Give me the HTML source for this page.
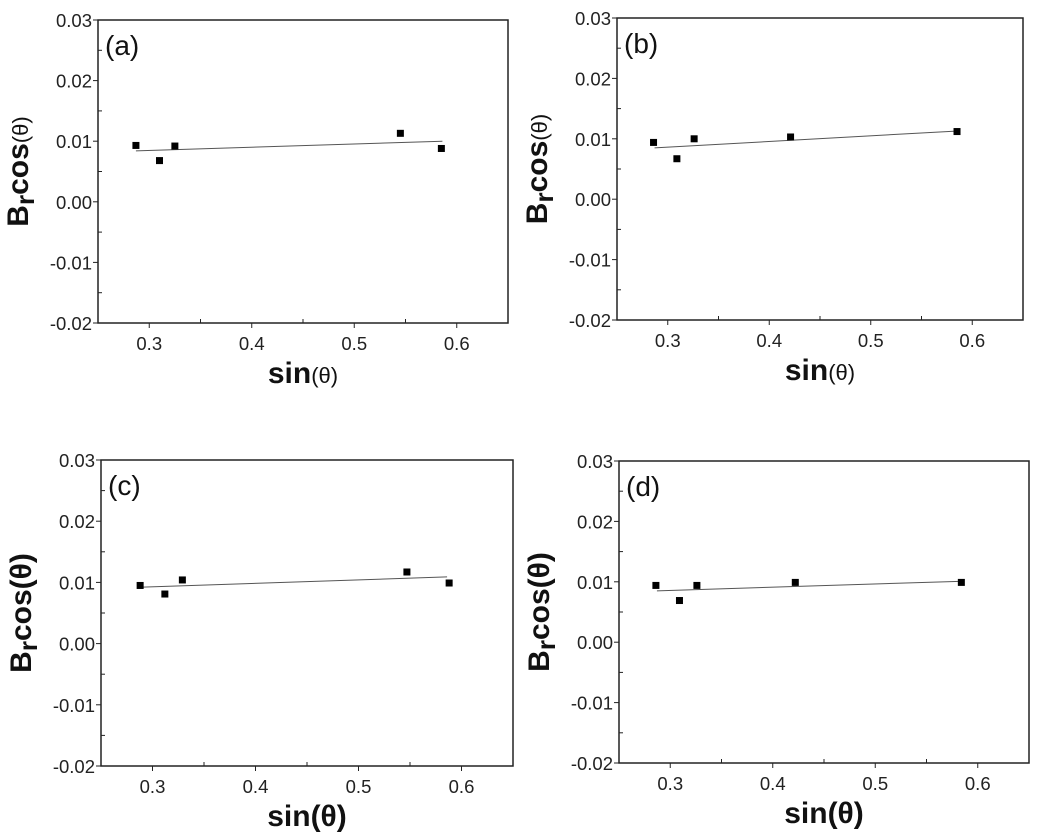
<!DOCTYPE html>
<html><head><meta charset="utf-8"><style>
html,body{margin:0;padding:0;background:#fff;}
svg{display:block;font-family:"Liberation Sans",Arial,sans-serif;}
</style></head><body>
<svg id="fig" width="1043" height="835" viewBox="0 0 1043 835"></svg>
<script>
const xTicks=[0.3,0.4,0.5,0.6];
const yTicks=[-0.02,-0.01,0.00,0.01,0.02,0.03];
const yTickLabels=["-0.02","-0.01","0.00","0.01","0.02","0.03"];
const labels=["(a)","(b)","(c)","(d)"];
const xA=[0.287,0.310,0.325,0.545,0.585];
const yA=[0.0093,0.0068,0.0092,0.0113,0.0088];
const fitA=[0.0084,0.0100];
const xB=[0.286,0.309,0.326,0.421,0.585];
const yB=[0.0094,0.0067,0.0100,0.0103,0.0112];
const fitB=[0.0085,0.0113];
const xC=[0.288,0.312,0.329,0.547,0.588];
const yC=[0.0095,0.0081,0.0104,0.0117,0.0099];
const fitC=[0.0092,0.0109];
const xD=[0.286,0.309,0.326,0.422,0.584];
const yD=[0.0094,0.0069,0.0094,0.0099,0.0099];
const fitD=[0.0085,0.0101];
const fitX=[0.287,0.586];

const panels=[
 {L:98,T:20,R:508,B:323,xs:xA,ys:yA,fit:fitA,bold:false},
 {L:617,T:18,R:1023,B:320,xs:xB,ys:yB,fit:fitB,bold:false},
 {L:101,T:460,R:513,B:766,xs:xC,ys:yC,fit:fitC,bold:true},
 {L:619,T:461,R:1029,B:763,xs:xD,ys:yD,fit:fitD,bold:true}
];
const NS="http://www.w3.org/2000/svg";
const svg=document.getElementById('fig');
function mk(tag,attrs,parent){const e=document.createElementNS(NS,tag);for(const k in attrs)e.setAttribute(k,attrs[k]);(parent||svg).appendChild(e);return e;}
panels.forEach((p,i)=>{
 const g=mk('g',{});
 
 
 const sx=v=>p.L+(v-0.25)/(0.65-0.25)*(p.R-p.L);
 const sy=v=>p.B-(v+0.02)/(0.05)*(p.B-p.T);
 const frame=mk('rect',{x:p.L,y:p.T,width:p.R-p.L,height:p.B-p.T,fill:'none',stroke:'#222','stroke-width':1.5},g);
 
 
 yTicks.forEach((v,j)=>{
  const y=sy(v);
  mk('line',{x1:p.L-5,x2:p.L,y1:y,y2:y,stroke:'#222'},g);
  if(j<yTicks.length-1){const ym=sy(v+0.005);mk('line',{x1:p.L,x2:p.L+4,y1:ym,y2:ym,stroke:'#222'},g);}
  const t=mk('text',{x:p.L-6,y:y+7,'text-anchor':'end','font-size':18.5,fill:'#222'},g);
  t.textContent=yTickLabels[j];
  
  
 });
 xTicks.forEach(v=>{
  const x=sx(v);
  mk('line',{x1:x,x2:x,y1:p.B,y2:p.B+5,stroke:'#222'},g);
  const xm=sx(v+0.05);
  if(v+0.05<0.65)mk('line',{x1:xm,x2:xm,y1:p.B,y2:p.B-4,stroke:'#222'},g);
  const t=mk('text',{x:x,y:p.B+27,'text-anchor':'middle','font-size':18.5,fill:'#222'},g);
  t.textContent=v.toFixed(1);
  
  
 });
 const ln=mk('line',{x1:sx(fitX[0]),y1:sy(p.fit[0]),x2:sx(fitX[1]),y2:sy(p.fit[1]),stroke:'#555','stroke-width':1},g);
 
 
 p.xs.forEach((xv,k)=>{
  const r=mk('rect',{x:sx(xv)-3.5,y:sy(p.ys[k])-3.5,width:7,height:7,fill:'#000'},g);
  
  
 });
 const lab=mk('text',{x:p.L+7,y:p.T+35,'font-size':28,fill:'#111'},g);
 lab.textContent=labels[i];
 
 
 const cx=(p.L+p.R)/2, cy=(p.T+p.B)/2;
 const yl=mk('text',{transform:`translate(${p.L-70},${cy}) rotate(-90)`,'text-anchor':'middle','font-size':30,'font-weight':'bold',fill:'#111'},g);
 yl.innerHTML=p.bold?'B<tspan font-size="26" dy="6">r</tspan><tspan dy="-6">cos(θ)</tspan>':'B<tspan font-size="26" dy="6">r</tspan><tspan dy="-6">cos</tspan><tspan font-weight="normal" font-size="22">(θ)</tspan>';
 
 
 const xl=mk('text',{x:cx,y:p.B+60,'text-anchor':'middle','font-size':30,'font-weight':'bold',fill:'#111'},g);
 xl.innerHTML=p.bold?'sin(θ)':'sin<tspan font-weight="normal" font-size="22">(θ)</tspan>';
 
 
});
</script>
</body></html>
